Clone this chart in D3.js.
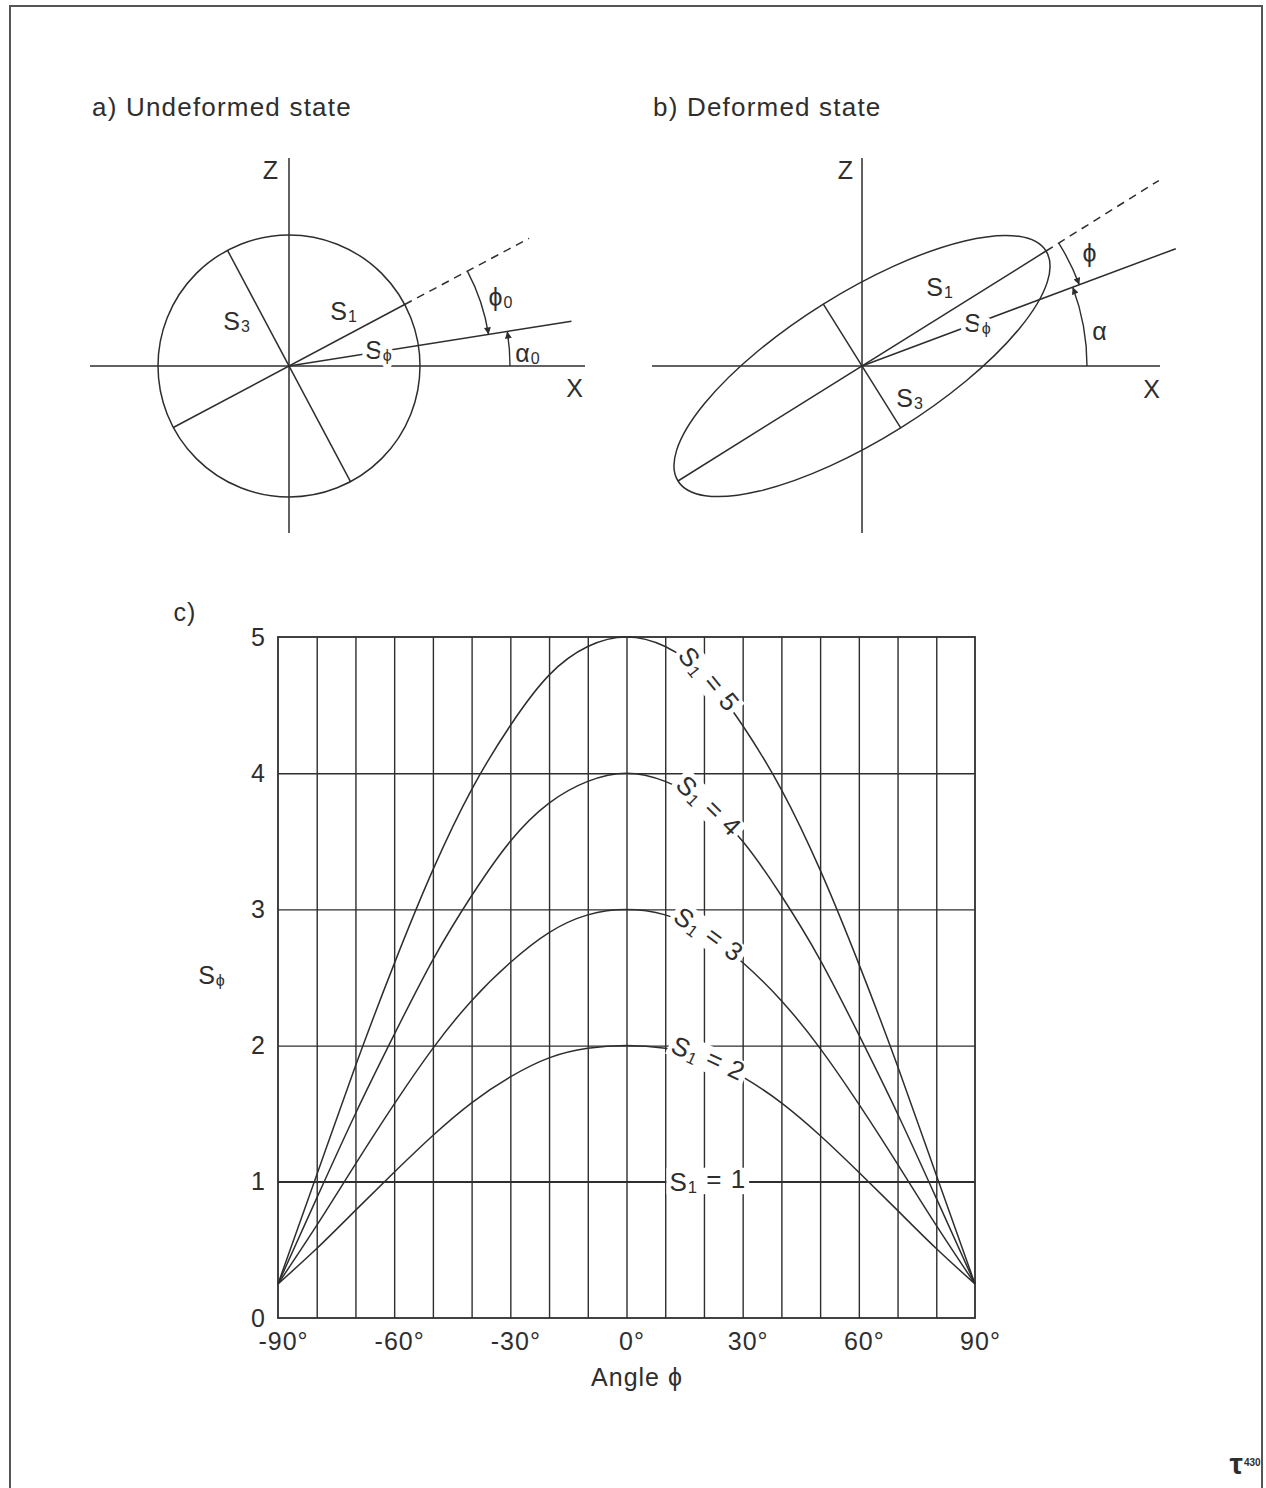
<!DOCTYPE html>
<html>
<head>
<meta charset="utf-8">
<script src="https://cdn.jsdelivr.net/npm/d3@7"></script>
<style>
  html, body { margin: 0; padding: 0; background: #fff; }
  svg { display: block; }
  text { font-family: "Liberation Sans", Arial, Helvetica, sans-serif; fill: #2e2e2e; }
</style>
</head>
<body>
<script>
// ---- Chart data: stretch S_phi against angle phi for several S1 values ----
const angles = [-90, -80, -70, -60, -50, -40, -30, -20, -10, 0, 10, 20, 30, 40, 50, 60, 70, 80, 90];
const sPhi5 = [0.25, 1.05, 1.85, 2.60, 3.29, 3.88, 4.35, 4.72, 4.93, 5.00, 4.93, 4.72, 4.35, 3.88, 3.29, 2.60, 1.85, 1.05, 0.25];
const sPhi4 = [0.25, 0.88, 1.50, 2.08, 2.63, 3.10, 3.50, 3.78, 3.94, 4.00, 3.94, 3.78, 3.50, 3.10, 2.63, 2.08, 1.50, 0.88, 0.25];
const sPhi3 = [0.25, 0.68, 1.13, 1.57, 1.98, 2.33, 2.61, 2.83, 2.96, 3.00, 2.96, 2.83, 2.61, 2.33, 1.98, 1.57, 1.13, 0.68, 0.25];
const sPhi2 = [0.25, 0.51, 0.79, 1.07, 1.34, 1.58, 1.77, 1.91, 1.98, 2.00, 1.98, 1.91, 1.77, 1.58, 1.34, 1.07, 0.79, 0.51, 0.25];
const sPhi1 = [1, 1, 1, 1, 1, 1, 1, 1, 1, 1, 1, 1, 1, 1, 1, 1, 1, 1, 1];
const s1Values = [5, 4, 3, 2, 1];
const xTickValues = [-90, -60, -30, 0, 30, 60, 90];
const yTickValues = [0, 1, 2, 3, 4, 5];
const gridAngles = [-80, -70, -60, -50, -40, -30, -20, -10, 0, 10, 20, 30, 40, 50, 60, 70, 80];
const gridValues = [1, 2, 3, 4];

const series = [sPhi5, sPhi4, sPhi3, sPhi2, sPhi1].map((values, i) => ({ s1: s1Values[i], values }));

const W = 1266, H = 1488;
const INK = "#2e2e2e";
const FONT = 25;

const svg = d3.select("body").append("svg")
  .attr("width", W).attr("height", H)
  .attr("viewBox", `0 0 ${W} ${H}`);

const defs = svg.append("defs");
defs.append("marker")
  .attr("id", "arrow")
  .attr("viewBox", "0 0 10 10")
  .attr("refX", 10).attr("refY", 5)
  .attr("markerWidth", 9).attr("markerHeight", 7)
  .attr("markerUnits", "userSpaceOnUse")
  .attr("orient", "auto")
  .append("path").attr("d", "M0,0 L10,5 L0,10 Z").attr("fill", INK);

// page frame (open at the bottom edge)
svg.append("path")
  .attr("d", `M10,${H} V6 H1262 V${H}`)
  .attr("fill", "none").attr("stroke", "#555").attr("stroke-width", 2);

// text helper; "halo" outlines glyphs in white, "box" clears a white band behind the text
function label(g, x, y, parts, opts = {}) {
  const size = opts.size || FONT;
  const holder = g.append("g");
  const t = holder.append("text")
    .attr("x", x).attr("y", y)
    .attr("text-anchor", opts.anchor || "middle")
    .attr("dominant-baseline", "central")
    .attr("font-size", size)
    .attr("letter-spacing", opts.spacing != null ? opts.spacing : 1);
  if (opts.halo) {
    t.attr("stroke", "#fff").attr("stroke-width", opts.halo)
      .attr("stroke-linejoin", "round").attr("paint-order", "stroke");
  }
  parts.forEach(p => {
    const sp = t.append("tspan").text(p.t);
    if (p.sub) sp.attr("font-size", size * 0.64).attr("dy", "0.32em");
    if (p.up) sp.attr("dy", "-0.32em").attr("font-size", size);
  });
  if (opts.box) {
    const b = t.node().getBBox();
    const pad = opts.box;
    holder.insert("rect", "text")
      .attr("x", b.x - pad).attr("y", b.y + b.height * 0.12)
      .attr("width", b.width + 2 * pad).attr("height", b.height * 0.8)
      .attr("fill", "#fff");
  }
  if (opts.rotate) holder.attr("transform", `rotate(${opts.rotate},${x},${y})`);
  return holder;
}

// ---- Diagram helpers ----
const rad = d => d * Math.PI / 180;
function pt(o, r, deg) { return [o[0] + r * Math.cos(rad(deg)), o[1] - r * Math.sin(rad(deg))]; }
function seg(g, a, b, dash) {
  const l = g.append("line")
    .attr("x1", a[0]).attr("y1", a[1]).attr("x2", b[0]).attr("y2", b[1])
    .attr("stroke", INK).attr("stroke-width", 1.5);
  if (dash) l.attr("stroke-dasharray", dash);
  return l;
}
function arcArrow(g, o, r, from, to) {
  const p0 = pt(o, r, from), p1 = pt(o, r, to);
  const sweep = to < from ? 1 : 0;
  g.append("path")
    .attr("d", `M${p0[0]},${p0[1]} A${r},${r} 0 0 ${sweep} ${p1[0]},${p1[1]}`)
    .attr("fill", "none").attr("stroke", INK).attr("stroke-width", 1.4)
    .attr("marker-end", "url(#arrow)");
}

// ---- a) Undeformed state ----
const undeformed = { origin: [289, 366], xAxis: [90, 585], zAxis: [158, 533], radius: 131,
  s1Angle: 28, sPhiAngle: 9, dashEnd: 272, sPhiEnd: 286, phiArc: 202, alphaArc: 221 };
{
  const g = svg.append("g");
  const o = undeformed.origin;
  label(g, 92, 107, [{ t: "a) Undeformed state" }], { anchor: "start", size: 26, spacing: 1.2 });
  seg(g, [undeformed.xAxis[0], o[1]], [undeformed.xAxis[1], o[1]]);
  seg(g, [o[0], undeformed.zAxis[0]], [o[0], undeformed.zAxis[1]]);
  g.append("circle").attr("cx", o[0]).attr("cy", o[1]).attr("r", undeformed.radius)
    .attr("fill", "none").attr("stroke", INK).attr("stroke-width", 1.5);
  seg(g, pt(o, undeformed.radius, undeformed.s1Angle + 180), pt(o, undeformed.radius, undeformed.s1Angle));
  seg(g, pt(o, undeformed.radius, undeformed.s1Angle + 90), pt(o, undeformed.radius, undeformed.s1Angle + 270));
  seg(g, pt(o, undeformed.radius, undeformed.s1Angle), pt(o, undeformed.dashEnd, undeformed.s1Angle), "8,6");
  seg(g, o, pt(o, undeformed.sPhiEnd, undeformed.sPhiAngle));
  arcArrow(g, o, undeformed.phiArc, undeformed.s1Angle, undeformed.sPhiAngle);
  arcArrow(g, o, undeformed.alphaArc, 0, undeformed.sPhiAngle);
  label(g, 271, 170, [{ t: "Z" }]);
  label(g, 575, 388, [{ t: "X" }]);
  label(g, 344, 311, [{ t: "S" }, { t: "1", sub: true }]);
  label(g, 237, 321, [{ t: "S" }, { t: "3", sub: true }]);
  label(g, 379, 350, [{ t: "S" }, { t: "ϕ", sub: true }], { halo: 8 });
  label(g, 501, 297, [{ t: "ϕ" }, { t: "0", sub: true }]);
  label(g, 528, 353, [{ t: "α" }, { t: "0", sub: true }]);
}

// ---- b) Deformed state ----
const deformed = { origin: [862, 366], xAxis: [652, 1160], zAxis: [158, 533], semiMajor: 217, semiMinor: 73,
  s1Angle: 32, sPhiAngle: 20.5, dashEnd: 350, sPhiEnd: 335, phiArc: 232, alphaArc: 225 };
{
  const g = svg.append("g");
  const o = deformed.origin;
  label(g, 653, 107, [{ t: "b) Deformed state" }], { anchor: "start", size: 26, spacing: 1.2 });
  seg(g, [deformed.xAxis[0], o[1]], [deformed.xAxis[1], o[1]]);
  seg(g, [o[0], deformed.zAxis[0]], [o[0], deformed.zAxis[1]]);
  g.append("ellipse").attr("cx", o[0]).attr("cy", o[1])
    .attr("rx", deformed.semiMajor).attr("ry", deformed.semiMinor)
    .attr("transform", `rotate(${-deformed.s1Angle},${o[0]},${o[1]})`)
    .attr("fill", "none").attr("stroke", INK).attr("stroke-width", 1.5);
  seg(g, pt(o, deformed.semiMajor, deformed.s1Angle + 180), pt(o, deformed.semiMajor, deformed.s1Angle));
  seg(g, pt(o, deformed.semiMinor, deformed.s1Angle + 90), pt(o, deformed.semiMinor, deformed.s1Angle + 270));
  seg(g, pt(o, deformed.semiMajor, deformed.s1Angle), pt(o, deformed.dashEnd, deformed.s1Angle), "8,6");
  seg(g, o, pt(o, deformed.sPhiEnd, deformed.sPhiAngle));
  arcArrow(g, o, deformed.phiArc, deformed.s1Angle, deformed.sPhiAngle);
  arcArrow(g, o, deformed.alphaArc, 0, deformed.sPhiAngle);
  label(g, 846, 170, [{ t: "Z" }]);
  label(g, 1152, 389, [{ t: "X" }]);
  label(g, 940, 287, [{ t: "S" }, { t: "1", sub: true }]);
  label(g, 910, 398, [{ t: "S" }, { t: "3", sub: true }]);
  label(g, 978, 323, [{ t: "S" }, { t: "ϕ", sub: true }], { halo: 9 });
  label(g, 1090, 253, [{ t: "ϕ" }]);
  label(g, 1100, 331, [{ t: "α" }]);
}

// ---- c) S_phi versus angle phi ----
const plot = { left: 278, right: 975, top: 637, bottom: 1318 };
const x = d3.scaleLinear().domain([-90, 90]).range([plot.left, plot.right]);
const y = d3.scaleLinear().domain([0, 5]).range([plot.bottom, plot.top]);
const chart = svg.append("g");

// grid
chart.append("g")
  .attr("transform", `translate(0,${plot.bottom})`)
  .call(d3.axisBottom(x).tickValues(gridAngles).tickSize(-(plot.bottom - plot.top)).tickFormat(""))
  .call(g => g.select(".domain").remove())
  .call(g => g.selectAll("line").attr("stroke", INK).attr("stroke-width", 1.4));
chart.append("g")
  .attr("transform", `translate(${plot.left},0)`)
  .call(d3.axisLeft(y).tickValues(gridValues).tickSize(-(plot.right - plot.left)).tickFormat(""))
  .call(g => g.select(".domain").remove())
  .call(g => g.selectAll("line").attr("stroke", INK).attr("stroke-width", 1.4));

// frame of the plot
chart.append("rect")
  .attr("x", plot.left).attr("y", plot.top)
  .attr("width", plot.right - plot.left).attr("height", plot.bottom - plot.top)
  .attr("fill", "none").attr("stroke", INK).attr("stroke-width", 1.8);

// tick labels
chart.append("g")
  .attr("transform", `translate(${plot.left},0)`)
  .call(d3.axisLeft(y).tickValues(yTickValues).tickSize(0).tickPadding(13).tickFormat(d3.format("d")))
  .call(g => g.select(".domain").remove())
  .call(g => g.selectAll("text").attr("font-size", FONT).attr("fill", INK)
    .attr("font-family", "Liberation Sans, Arial, sans-serif"));
chart.append("g")
  .attr("transform", `translate(0,${plot.bottom})`)
  .call(d3.axisBottom(x).tickValues(xTickValues).tickSize(0).tickPadding(14).tickFormat(d => d + "°"))
  .call(g => g.select(".domain").remove())
  .call(g => g.selectAll("text").attr("font-size", FONT).attr("fill", INK).attr("dx", 5)
    .attr("letter-spacing", 1)
    .attr("font-family", "Liberation Sans, Arial, sans-serif"));

// curves
const line = d3.line()
  .x((d, i) => x(angles[i]))
  .y(d => y(d))
  .curve(d3.curveNatural);
chart.append("g").selectAll("path")
  .data(series)
  .join("path")
  .attr("d", d => line(d.values))
  .attr("fill", "none").attr("stroke", INK).attr("stroke-width", 1.5);

// curve labels, set along each curve to the right of its peak
const labelAngle = 21;
series.forEach(s => {
  const i = angles.indexOf(20);
  const f = (labelAngle - angles[i]) / (angles[i + 1] - angles[i]);
  const v = s.values[i] + f * (s.values[i + 1] - s.values[i]);
  const px = x(labelAngle), py = y(v);
  const dx = x(angles[i + 2]) - x(angles[i - 1]);
  const dy = y(s.values[i + 2]) - y(s.values[i - 1]);
  const rot = Math.atan2(dy, dx) * 180 / Math.PI;
  label(chart, px, py, [{ t: "S" }, { t: "1", sub: true }, { t: " = " + s.s1, up: true }],
    { rotate: rot, box: 3, spacing: 1, size: 26 });
});

// axis titles and panel tag
label(chart, 185, 612, [{ t: "c)" }]);
label(chart, 637, 1377, [{ t: "Angle ϕ" }]);
label(chart, 212, 975, [{ t: "S" }, { t: "ϕ", sub: true }]);

// publisher mark
const mark = svg.append("g");
mark.append("text").attr("x", 1243).attr("y", 1474).attr("text-anchor", "end")
  .attr("font-family", "DejaVu Serif, serif").attr("font-weight", "bold")
  .attr("font-size", 30).attr("fill", "#222").text("τ");
mark.append("text").attr("x", 1244).attr("y", 1466).attr("text-anchor", "start")
  .attr("font-size", 10).attr("font-weight", "bold").attr("fill", "#222").text("430");
</script>
</body>
</html>
